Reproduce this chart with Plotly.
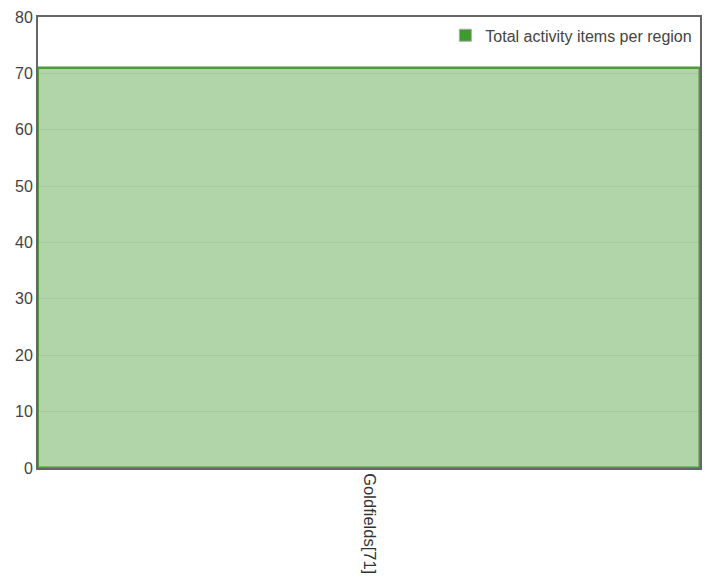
import plotly.graph_objects as go

categories = ["Goldfields[71]"]
values = [71]
series_name = "Total activity items per region"
y_ticks = [0, 10, 20, 30, 40, 50, 60, 70, 80]

fig = go.Figure()
fig.add_trace(go.Bar(
    x=categories, y=values, name=series_name,
    marker=dict(color="rgba(60,150,40,0.4)", line=dict(color="#4a9e35", width=2.5)),
    showlegend=False,
))
# legend swatch entry (same series, darker swatch like the reference legend)
fig.add_trace(go.Bar(
    x=[None], y=[None], name=series_name,
    marker=dict(color="#3d9a2c", line=dict(color="#aaaaaa", width=1)),
    showlegend=True,
))
fig.update_layout(
    width=707, height=579,
    margin=dict(l=38, r=7, t=17, b=111, autoexpand=False),
    paper_bgcolor="white", plot_bgcolor="white",
    font=dict(family="Liberation Sans, Arial, sans-serif", size=16, color="#444"),
    bargap=0, barmode="overlay",
    showlegend=True,
    legend=dict(x=0.996, xanchor="right", y=0.997, yanchor="top", bgcolor="rgba(0,0,0,0)",
                font=dict(size=16, color="#444"), itemwidth=30),
    xaxis=dict(range=[-0.5, 0.5], tickangle=90, showline=True, linecolor="#666", linewidth=2,
               mirror=True, ticks="", tickfont=dict(size=16.5, color="#333"), showgrid=False,
               automargin=False),
    yaxis=dict(range=[0, 80], tickvals=y_ticks, showline=True, linecolor="#666", linewidth=2,
               mirror=True, ticks="", gridcolor="rgba(0,0,0,0.07)", zeroline=False,
               tickfont=dict(size=16, color="#444"), automargin=False),
)
fig.write_html("out.html", config={"displayModeBar": False},
               post_script="document.body.style.margin='0';")
